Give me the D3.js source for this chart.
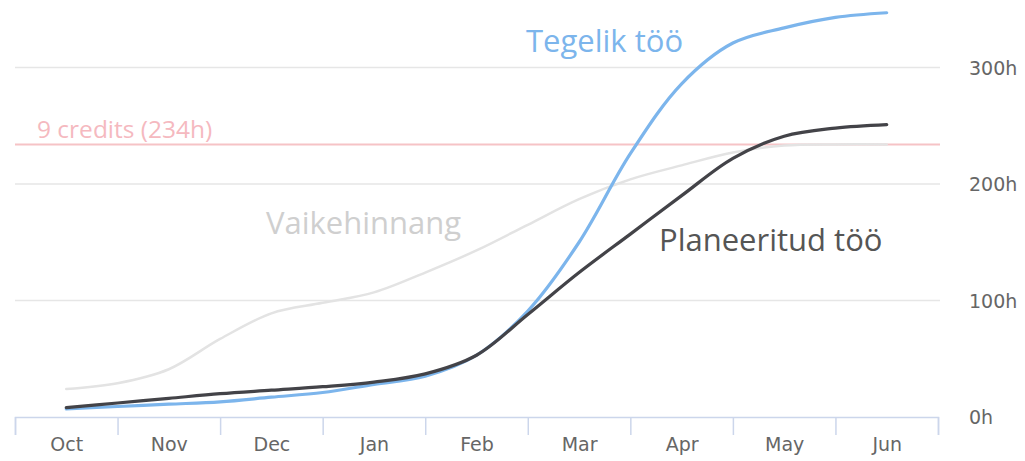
<!DOCTYPE html>
<html>
<head>
<meta charset="utf-8">
<script src="https://cdn.jsdelivr.net/npm/d3@7"></script>
<style>
  html, body { margin: 0; padding: 0; background: #fff; }
  svg { display: block; }
  .axis text { font-family: "DejaVu Sans", Verdana, sans-serif; font-size: 19px; fill: #666; }
  .big { font-family: "Open Sans", sans-serif; }
</style>
</head>
<body>
<svg id="chart" width="1025" height="461"></svg>
<script>
// months on the x axis
var months = ['Oct', 'Nov', 'Dec', 'Jan', 'Feb', 'Mar', 'Apr', 'May', 'Jun'];
// half-month positions (0 = Oct)
var steps = [0, 0.5, 1, 1.5, 2, 2.5, 3, 3.5, 4, 4.5, 5, 5.5, 6, 6.5, 7, 7.5, 8];
// hours
var estimate = [24, 29, 41, 67, 89, 98, 107, 124, 143, 165, 187, 204, 216, 227, 233, 234, 234];
var planned  = [8, 12, 16, 20, 23, 26, 30, 37, 53, 88, 124, 157, 190, 222, 241, 248, 251];
var actual   = [7, 9, 11, 13, 17, 21, 28, 35, 53, 91, 150, 226, 286, 321, 334, 343, 347];
var yTicks = [0, 100, 200, 300];
var creditsLimit = 234;

var svg = d3.select('#chart'),
    left = 15,
    right = 938,
    bottom = 417;

var x = d3.scaleLinear()
    .domain([-0.5, months.length - 0.5])
    .range([left, right]);

var y = d3.scaleLinear()
    .domain([0, 300])
    .range([bottom, 67.5]);

// grid lines
svg.append('g')
    .selectAll('line')
    .data(yTicks.slice(1))
    .enter().append('line')
    .attr('x1', left)
    .attr('x2', right + 2)
    .attr('y1', function(d) { return y(d); })
    .attr('y2', function(d) { return y(d); })
    .attr('stroke', '#e6e6e6')
    .attr('stroke-width', 1.5);

// y labels on the right
var yAxis = svg.append('g')
    .attr('class', 'axis')
    .attr('transform', 'translate(969,0)')
    .call(d3.axisRight(y).tickValues(yTicks).tickSize(0).tickPadding(0)
        .tickFormat(function(d) { return d + 'h'; }));
yAxis.select('.domain').remove();
yAxis.selectAll('text').attr('dy', '0.35em');

// credits line
svg.append('line')
    .attr('x1', left)
    .attr('x2', right + 2)
    .attr('y1', y(creditsLimit))
    .attr('y2', y(creditsLimit))
    .attr('stroke', '#f6c3c6')
    .attr('stroke-width', 2);

svg.append('text')
    .attr('class', 'big')
    .attr('x', 37)
    .attr('y', 138)
    .attr('fill', '#f5b9bf')
    .style('font-size', '24.5px')
    .text('9 credits (' + creditsLimit + 'h)');

// x axis: boundary ticks
var xTicks = svg.append('g')
    .attr('transform', 'translate(0,' + bottom + ')')
    .call(d3.axisBottom(x).tickValues(d3.range(-0.5, months.length, 1)).tickSize(18).tickFormat(''));
xTicks.select('.domain').attr('stroke', '#ccd6eb').attr('stroke-width', 1.5);
xTicks.selectAll('.tick line').attr('stroke', '#ccd6eb').attr('stroke-width', 1.5);

// x axis: month labels
var xLabels = svg.append('g')
    .attr('class', 'axis')
    .attr('transform', 'translate(0,' + bottom + ')')
    .call(d3.axisBottom(x).tickValues(d3.range(months.length)).tickSize(0).tickPadding(21)
        .tickFormat(function(d) { return months[d]; }));
xLabels.select('.domain').remove();

var line = d3.line()
    .x(function(d) { return x(d[0]); })
    .y(function(d) { return y(d[1]); })
    .curve(d3.curveCatmullRom.alpha(0.5));

function series(values) {
    return steps.map(function(s, i) { return [s, values[i]]; });
}

svg.append('path')
    .datum(series(estimate))
    .attr('d', line)
    .attr('fill', 'none')
    .attr('stroke', '#e3e3e3')
    .attr('stroke-width', 2.5)
    .attr('stroke-linecap', 'round');

svg.append('path')
    .datum(series(actual))
    .attr('d', line)
    .attr('fill', 'none')
    .attr('stroke', '#7cb5ec')
    .attr('stroke-width', 3.2)
    .attr('stroke-linecap', 'round');

svg.append('path')
    .datum(series(planned))
    .attr('d', line)
    .attr('fill', 'none')
    .attr('stroke', '#434348')
    .attr('stroke-width', 3.2)
    .attr('stroke-linecap', 'round');

// series labels
var labels = [
    { text: 'Tegelik töö', x: 526, y: 52, color: '#7cb5ec' },
    { text: 'Vaikehinnang', x: 266, y: 234, color: '#cfcfcf' },
    { text: 'Planeeritud töö', x: 659, y: 251, color: '#555555' }
];
svg.selectAll('.series-label')
    .data(labels)
    .enter().append('text')
    .attr('class', 'big series-label')
    .attr('x', function(d) { return d.x; })
    .attr('y', function(d) { return d.y; })
    .attr('fill', function(d) { return d.color; })
    .style('font-size', '31px')
    .text(function(d) { return d.text; });
</script>
</body>
</html>
